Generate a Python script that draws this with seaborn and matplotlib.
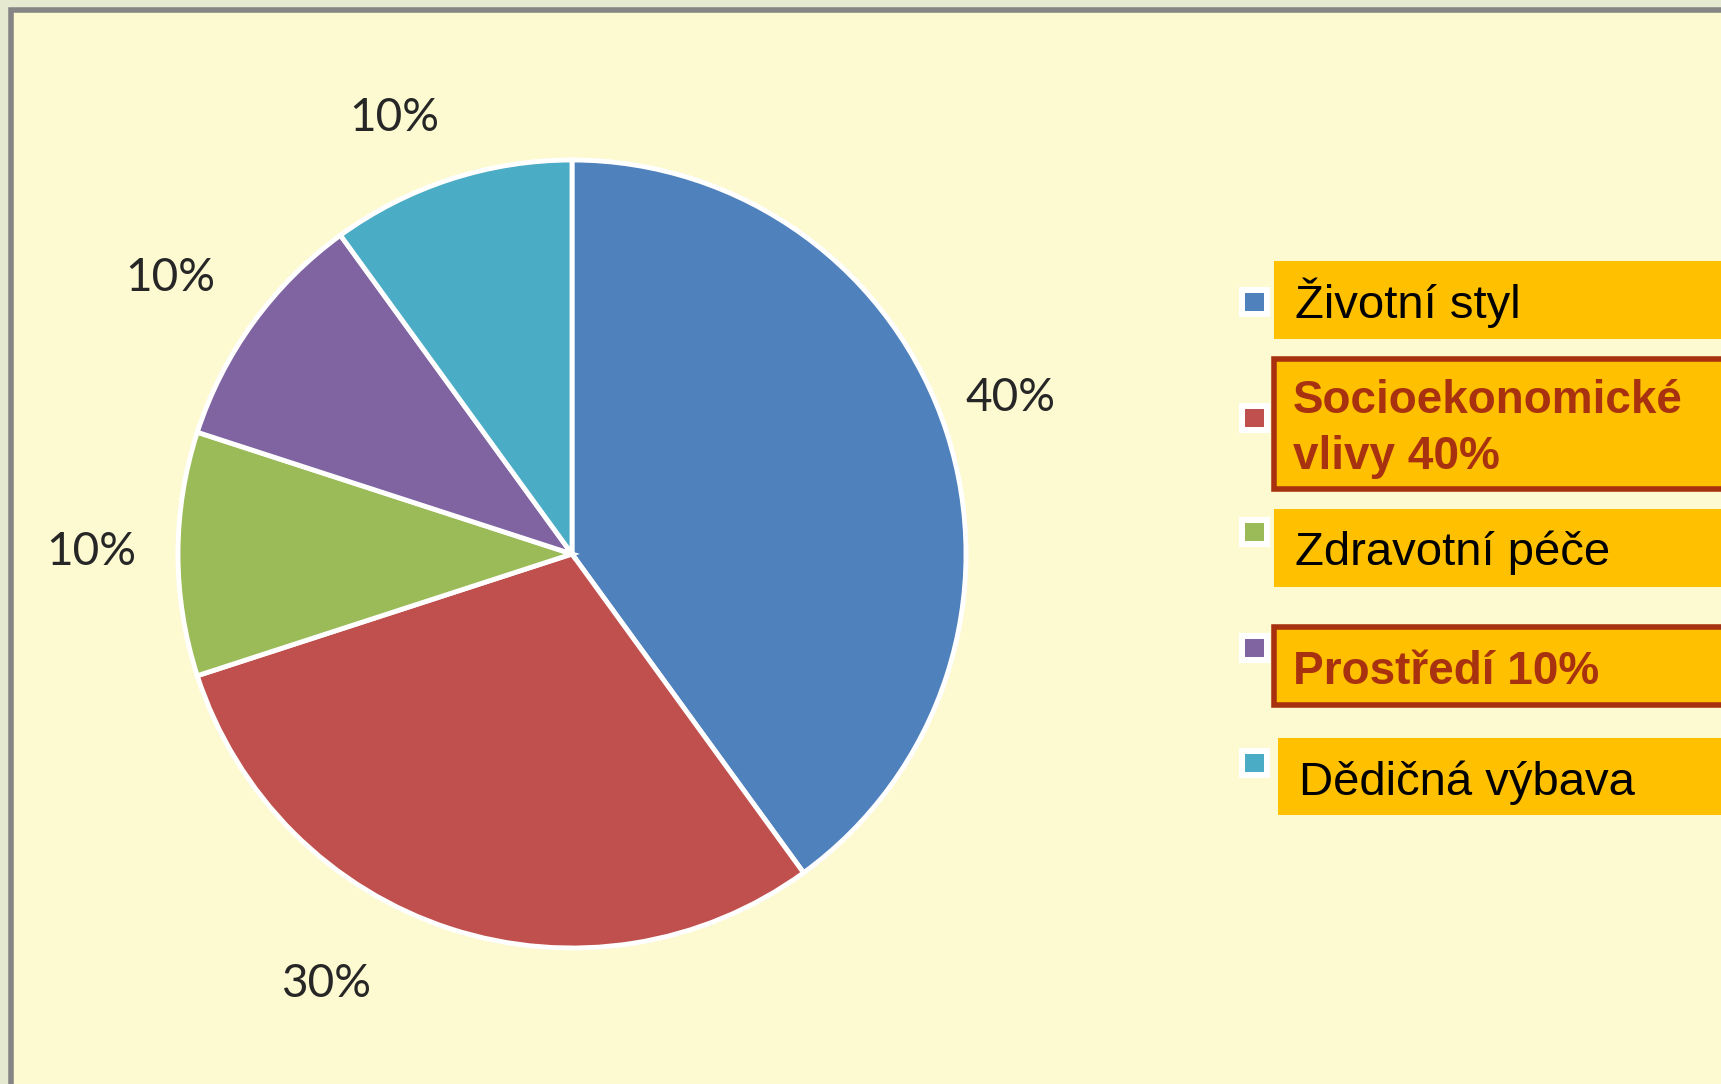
import matplotlib
matplotlib.use("Agg")
import matplotlib.pyplot as plt
import seaborn as sns
from matplotlib.patches import Rectangle

# data
shares = [40, 30, 10, 10, 10]
legend_labels = [["Životní styl"], ["Socioekonomické", "vlivy 40%"], ["Zdravotní péče"],
                 ["Prostředí 10%"], ["Dědičná výbava"]]
highlighted = [False, True, False, True, False]
colors = sns.color_palette(["#4F81BD", "#C0504D", "#9BBB59", "#8064A2", "#4BACC6"])
# nudges of the percent labels (in pie radii), PowerPoint places them a bit off-centre
label_nudge = [(-0.047, 0.02), (-0.248, 0.07), (0.0, 0.005), (-0.033, -0.017), (-0.073, -0.053)]

sns.set_theme(style="white")
plt.rcParams['font.family'] = ['Liberation Sans', 'DejaVu Sans']

W, H = 1721, 1084
fig = plt.figure(figsize=(W / 100, H / 100), dpi=100)
fig.patch.set_facecolor("#E4E9D0")


def fbox(x0, y0, x1, y1, **kw):
    r = Rectangle((x0 / W, 1 - y1 / H), (x1 - x0) / W, (y1 - y0) / H,
                  transform=fig.transFigure, **kw)
    fig.add_artist(r)
    return r


# slide panel
fbox(11, 10, W + 20, H + 20, facecolor="#FDF9D0", edgecolor="#858585", linewidth=4, zorder=0)

# pie axes: one data unit = pie radius in pixels
R, cx, cy = 394, 572, 554
ax = fig.add_axes([0, 0, 1, 1])
ax.set_facecolor("none")
wedges, texts, autotexts = ax.pie(
    shares, colors=colors, startangle=90, counterclock=False,
    autopct="%.0f%%", pctdistance=1.22,
    wedgeprops=dict(edgecolor="white", linewidth=3.5),
    textprops=dict(fontsize=33, color="#262626", family="Lato"))
for t, (dx, dy) in zip(autotexts, label_nudge):
    x, y = t.get_position()
    t.set_position((x + dx, y + dy))
ax.set_xlim(-cx / R, (W - cx) / R)
ax.set_ylim(-(H - cy) / R, cy / R)
ax.set_aspect("auto")
ax.axis("off")

# legend as in the slide
box_tops = [261, 357, 509, 625, 738]
box_bottoms = [339, 491, 587, 707, 815]
box_left = [1274, 1272, 1274, 1272, 1278]
marker_y = [302, 418, 532, 648, 763]
baselines = [[318], [413, 469], [565], [684], [795]]
dark_red = "#A8320F"

for i, lines in enumerate(legend_labels):
    if highlighted[i]:
        fbox(box_left[i] + 2, box_tops[i] + 2, W + 10, box_bottoms[i] - 2,
             facecolor="#FFC000", edgecolor=dark_red, linewidth=4, zorder=2)
    else:
        fbox(box_left[i], box_tops[i], W + 10, box_bottoms[i],
             facecolor="#FFC000", edgecolor="none", zorder=2)
    fbox(1239, marker_y[i] - 15, 1270, marker_y[i] + 15, facecolor="white",
         edgecolor="none", zorder=2)
    fbox(1245, marker_y[i] - 9, 1264, marker_y[i] + 9, facecolor=colors[i],
         edgecolor="none", zorder=3)
    for line, yb in zip(lines, baselines[i]):
        fig.text((box_left[i] + 21) / W, 1 - yb / H, line,
                 fontsize=33 if highlighted[i] else 34,
                 va="baseline", ha="left", zorder=4,
                 color=dark_red if highlighted[i] else "black",
                 fontweight="bold" if highlighted[i] else "normal")

fig.savefig("out.png", dpi=100, facecolor=fig.get_facecolor())
